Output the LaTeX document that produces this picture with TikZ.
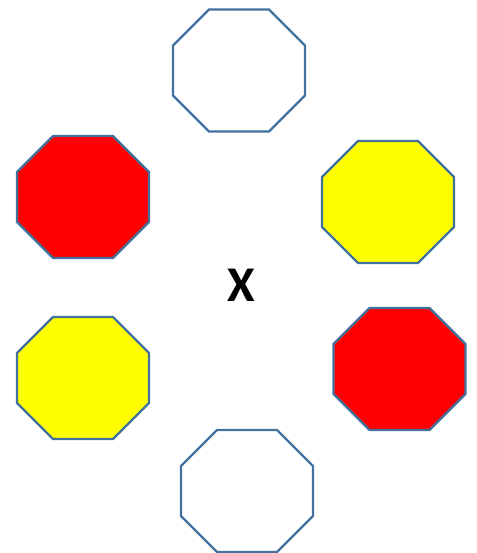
\documentclass[tikz,border=0pt]{standalone}
\usepackage{fontspec}
\newfontfamily\labelfont{Carlito}
\usetikzlibrary{positioning}
\definecolor{octaline}{RGB}{65,113,156}
\definecolor{octared}{RGB}{255,0,0}
\definecolor{octayellow}{RGB}{255,255,0}
\tikzset{
  octa/.pic={
    \draw[octaline,line width=2.4pt,line join=miter,fill=#1]
      (-30,-61) -- (30,-61) -- (66,-25) -- (66,25) -- (30,61) -- (-30,61) -- (-66,25) -- (-66,-25) -- cycle;
  },
  octa/.default=white
}
\begin{document}
\begin{tikzpicture}[x=1pt,y=-1pt]
\useasboundingbox (0,0) rectangle (476,553);
% six octagons round the centre
\pic at (239,70.5) {octa=white};
\pic at (83,197) {octa=octared};
\pic at (388,202) {octa=octayellow};
\pic at (399.5,369) {octa=octared};
\pic at (83,378) {octa=octayellow};
\pic at (247,491) {octa=white};
\node[font=\labelfont\bfseries\fontsize{50}{50}\selectfont] (centre) at (241,285) {X};
\end{tikzpicture}
\end{document}
